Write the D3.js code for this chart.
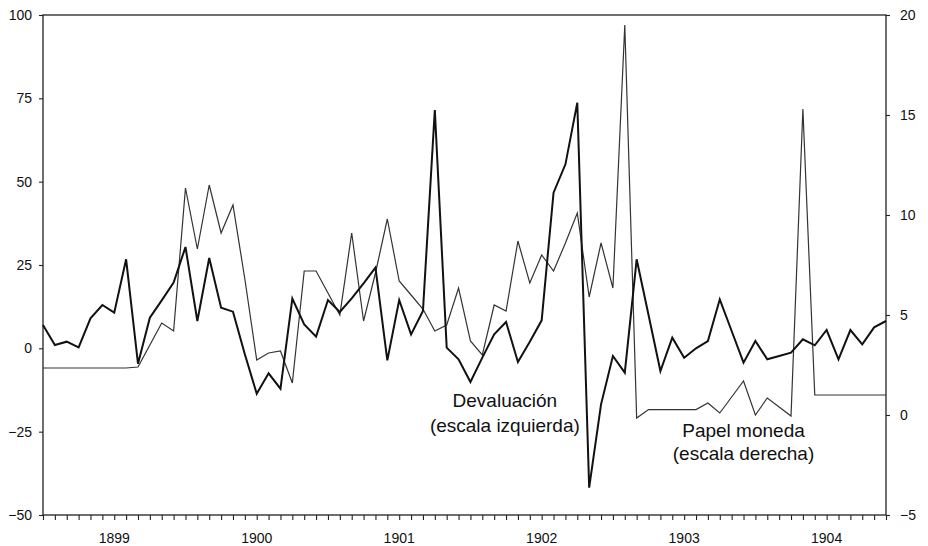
<!DOCTYPE html>
<html lang="es">
<head>
  <meta charset="UTF-8">
  <title>Devaluación y papel moneda</title>
  <style>
    body { margin: 0; background: #fff; }
    svg text { font-family: "Liberation Sans", Arial, sans-serif; fill: #111; }
  </style>
</head>
<body>
<svg width="928" height="546"></svg>

<script src="https://cdn.jsdelivr.net/npm/d3@7/dist/d3.min.js"></script>
<script>
  // datos mensuales, enero 1899 - diciembre 1904
  var yearLabels = ['1899', '1900', '1901', '1902', '1903', '1904'];
  var leftTicks = [-50, -25, 0, 25, 50, 75, 100];
  var rightTicks = [-5, 0, 5, 10, 15, 20];

  // devaluación, escala izquierda
  var devaluacion = [7, 1, 2, 0.3, 9, 13, 10.7, 26.7, -4.6, 9.2, 14.4, 19.7,
    30.4, 8.2, 27.1, 12.2, 11, -1.8, -13.6, -7.5, -12.1, 14.9, 7.2, 3.5,
    14.5, 10.9, 15, 19.5, 24.2, -3.6, 14.5, 4.2, 11.2, 71.5, 0.2, -3.3,
    -10.1, -2.8, 4.2, 7.9, -4.1, 2, 8.4, 46.7, 55.2, 73.7, -41.8, -16.8,
    -2.3, -7.3, 26.7, 10, -6.8, 3.2, -2.8, 0, 2.2, 14.7, 5.2, -4.3,
    2.2, -3.3, -2.3, -1.3, 2.7, 0.9, 5.5, -3.3, 5.5, 1.2, 6.3, 8.2];

  // papel moneda, escala derecha
  var papelMoneda = [2.35, 2.35, 2.35, 2.35, 2.35, 2.35, 2.35, 2.35, 2.4, 3.5, 4.6, 4.2,
    11.35, 8.3, 11.5, 9.1, 10.5, 6.8, 2.75, 3.1, 3.2, 1.6, 7.2, 7.2,
    6.1, 5.0, 9.1, 4.7, 7.1, 9.8, 6.7, 6.0, 5.3, 4.2, 4.5, 6.35,
    3.7, 3.0, 5.5, 5.2, 8.7, 6.6, 8.0, 7.2, 8.6, 10.1, 5.9, 8.6,
    6.35, 19.5, -0.15, 0.27, 0.27, 0.27, 0.27, 0.27, 0.6, 0.1, 0.9, 1.7,
    0, 0.85, 0.4, -0.05, 15.3, 1.0, 1.0, 1.0, 1.0, 1.0, 1.0, 1.0];

  var marge = {top: 15, right: 42, bottom: 31, left: 43};
  var svg = d3.select('svg'), width = +svg.attr('width'), height = +svg.attr('height');
  var w = width - marge.left - marge.right, h = height - marge.top - marge.bottom;
  var g = svg.append('g').attr('transform', `translate(${marge.left}, ${marge.top})`);

  var x = d3.scaleLinear().domain([0, devaluacion.length - 1]).range([0, w]);
  var yL = d3.scaleLinear().domain([-50, 100]).range([h, 0]);
  var yR = d3.scaleLinear().domain([-5, 20]).range([h, 0]);

  // marco
  g.append('rect').attr('width', w).attr('height', h)
    .attr('fill', 'none').attr('stroke', '#222').attr('stroke-width', 1.3);

  // ejes
  var axL = g.append('g').call(d3.axisLeft(yL).tickValues(leftTicks).tickSize(4).tickPadding(7));
  var axR = g.append('g').attr('transform', `translate(${w}, 0)`)
    .call(d3.axisRight(yR).tickValues(rightTicks).tickSize(4).tickPadding(10));
  var axB = g.append('g').attr('transform', `translate(0, ${h})`)
    .call(d3.axisBottom(x).tickValues(d3.range(devaluacion.length)).tickSize(5).tickFormat(''));
  [axL, axR, axB].forEach(function (a) {
    a.select('.domain').remove();
    a.selectAll('line').attr('stroke', '#222').attr('stroke-width', 1.1);
    a.selectAll('text').style('font-size', '14px').attr('fill', '#111');
  });

  // años, centrados a mitad de año
  g.selectAll('.year').data(yearLabels).enter().append('text')
    .attr('class', 'year')
    .attr('x', function (d, i) { return x(i * 12 + 6); })
    .attr('y', h + 28)
    .attr('text-anchor', 'middle')
    .style('font-size', '14px')
    .text(function (d) { return d; });

  // líneas
  var linePapel = d3.line().x(function (d, i) { return x(i); }).y(function (d) { return yR(d); });
  var lineDev = d3.line().x(function (d, i) { return x(i); }).y(function (d) { return yL(d); });

  g.append('path').datum(papelMoneda).attr('d', linePapel)
    .attr('fill', 'none').attr('stroke', '#333').attr('stroke-width', 1.2)
    .attr('stroke-linejoin', 'miter');
  g.append('path').datum(devaluacion).attr('d', lineDev)
    .attr('fill', 'none').attr('stroke', '#111').attr('stroke-width', 2)
    .attr('stroke-linejoin', 'miter');

  // rótulos
  var notes = [
    {t: 'Devaluación', i: 38.9, y: yL(-17.6)},
    {t: '(escala izquierda)', i: 38.9, y: yL(-25)},
    {t: 'Papel moneda', i: 59, y: yR(-1.1)},
    {t: '(escala derecha)', i: 59, y: yR(-2.25)}
  ];
  g.selectAll('.note').data(notes).enter().append('text')
    .attr('class', 'note')
    .attr('x', function (d) { return x(d.i); })
    .attr('y', function (d) { return d.y; })
    .attr('text-anchor', 'middle')
    .style('font-size', '19px')
    .text(function (d) { return d.t; });
</script>
</body>
</html>
